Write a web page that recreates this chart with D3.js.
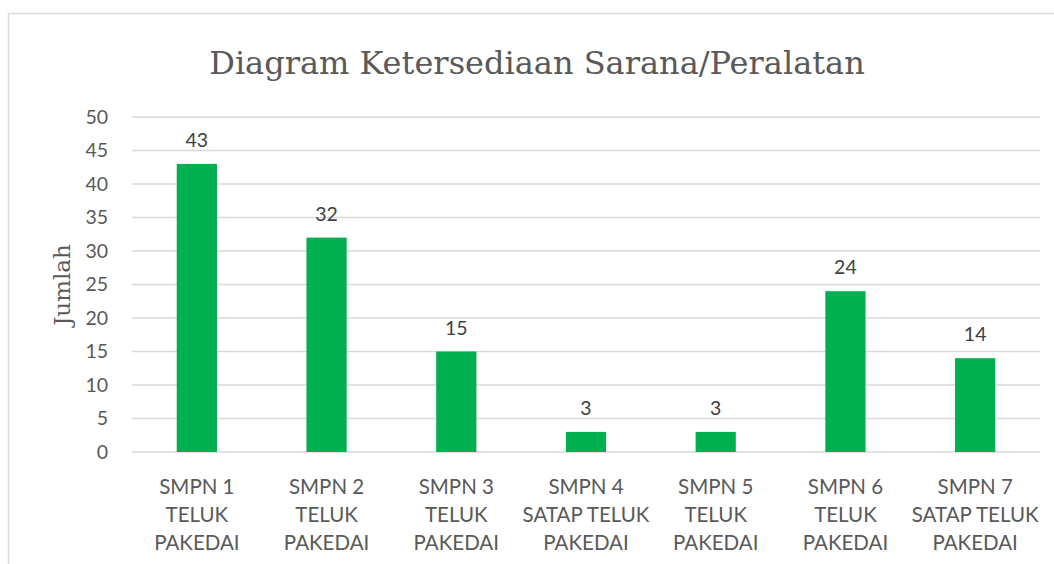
<!DOCTYPE html>
<html>
<head>
<meta charset="utf-8">
<script src="https://cdn.jsdelivr.net/npm/d3@7"></script>
<style>
  body { margin: 0; background: #fff; }
  svg text { font-family: Lato, "Open Sans", sans-serif; }
</style>
</head>
<body>
<div id="chart"></div>
<script>
// data
const categories = [
    ['SMPN 1', 'TELUK', 'PAKEDAI'],
    ['SMPN 2', 'TELUK', 'PAKEDAI'],
    ['SMPN 3', 'TELUK', 'PAKEDAI'],
    ['SMPN 4', 'SATAP TELUK', 'PAKEDAI'],
    ['SMPN 5', 'TELUK', 'PAKEDAI'],
    ['SMPN 6', 'TELUK', 'PAKEDAI'],
    ['SMPN 7', 'SATAP TELUK', 'PAKEDAI']
];
const values = [43, 32, 15, 3, 3, 24, 14];
const yTicks = [0, 5, 10, 15, 20, 25, 30, 35, 40, 45, 50];

const W = 1054, H = 564;
const margin = {top: 117, right: 14, bottom: 112, left: 132};
const width = W - margin.left - margin.right;
const height = H - margin.top - margin.bottom;

const svg = d3.select('#chart').append('svg')
    .attr('width', W)
    .attr('height', H);

// chart frame (cropped at right and bottom)
svg.append('rect')
    .attr('x', 8.5).attr('y', 13.5)
    .attr('width', W).attr('height', H)
    .attr('fill', 'none')
    .attr('stroke', '#d9d9d9')
    .attr('stroke-width', 1.5);

const chart = svg.append('g')
    .attr('transform', `translate(${margin.left},${margin.top})`);

const keys = categories.map((c, i) => i);
const xScale = d3.scaleBand().domain(keys).range([0, width]).paddingInner(0.69).paddingOuter(0.345);
const yScale = d3.scaleLinear().domain([0, 50]).range([height, 0]);

// gridlines
chart.selectAll('.grid')
    .data(yTicks)
    .join('line')
    .attr('class', 'grid')
    .attr('x1', 0).attr('x2', width)
    .attr('y1', d => yScale(d)).attr('y2', d => yScale(d))
    .attr('stroke', '#d9d9d9')
    .attr('stroke-width', 1.3);

// y axis
const yAxis = d3.axisLeft(yScale).tickValues(yTicks).tickSize(0).tickPadding(24);
const yAxisG = chart.append('g').call(yAxis);
yAxisG.select('.domain').remove();
yAxisG.selectAll('text')
    .attr('fill', '#595959')
    .style('font-size', '19.5px');

// bars
chart.selectAll('.bar')
    .data(values)
    .join('rect')
    .attr('class', 'bar')
    .attr('x', (d, i) => xScale(i))
    .attr('width', xScale.bandwidth())
    .attr('y', d => yScale(d))
    .attr('height', d => height - yScale(d))
    .attr('fill', '#00b050');

// data labels
chart.selectAll('.label')
    .data(values)
    .join('text')
    .attr('class', 'label')
    .attr('x', (d, i) => xScale(i) + xScale.bandwidth() / 2)
    .attr('y', d => yScale(d) - 17)
    .attr('text-anchor', 'middle')
    .attr('fill', '#404040')
    .style('font-size', '19.5px')
    .text(d => d);

// x labels
const xLab = chart.selectAll('.xlab')
    .data(categories)
    .join('text')
    .attr('class', 'xlab')
    .attr('text-anchor', 'middle')
    .attr('fill', '#595959')
    .style('font-size', '20.5px')
    .attr('transform', (d, i) => `translate(${xScale(i) + xScale.bandwidth() / 2},${height + 42})`);
xLab.selectAll('tspan')
    .data(d => d)
    .join('tspan')
    .attr('x', 0)
    .attr('y', (d, j) => j * 28)
    .text(d => d);

// title
svg.append('text')
    .attr('x', 537)
    .attr('y', 74)
    .attr('text-anchor', 'middle')
    .attr('fill', '#595959')
    .style('font-family', '"DejaVu Serif", "Liberation Serif", serif')
    .style('font-size', '32px')
    .text('Diagram Ketersediaan Sarana/Peralatan');

// y axis title
svg.append('text')
    .attr('transform', 'rotate(-90)')
    .attr('x', -285)
    .attr('y', 70)
    .attr('text-anchor', 'middle')
    .attr('fill', '#595959')
    .style('font-family', '"DejaVu Serif", "Liberation Serif", serif')
    .style('font-size', '23px')
    .text('Jumlah');
</script>
</body>
</html>
